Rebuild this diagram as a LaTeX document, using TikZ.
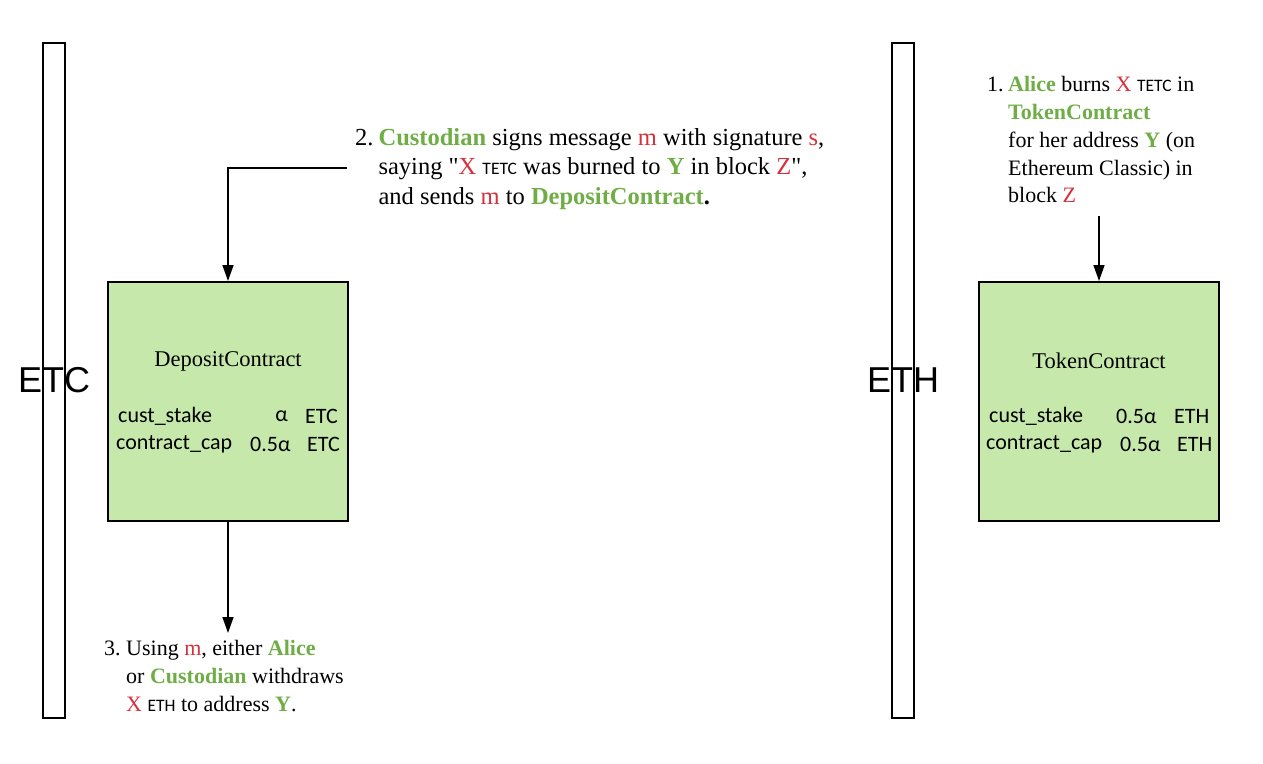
\documentclass[tikz,border=0pt]{standalone}
\usepackage{fontspec}
\setmainfont{Liberation Serif}
\newfontfamily\carl{Carlito}
\newfontfamily\arial{Liberation Sans}
\usetikzlibrary{arrows.meta}
\definecolor{gr}{HTML}{70AD47}
\definecolor{rd}{HTML}{D6303C}
\definecolor{boxfill}{HTML}{C6E8AB}
\newcommand{\G}[1]{\textbf{\textcolor{gr}{#1}}}
\newcommand{\R}[1]{\textcolor{rd}{#1}}
\newcommand{\SF}[1]{{\carl\fontsize{17.5}{20}\selectfont #1}}
\begin{document}
\begin{tikzpicture}[x=1pt,y=-1pt,
  chain/.style={draw=black,line width=2pt},
  contract/.style={draw=black,line width=2pt,fill=boxfill,minimum width=240pt,minimum height=239pt,inner sep=0pt},
  lbl/.style={font=\arial\fontsize{36}{40}\selectfont,inner sep=0pt},
  title/.style={font=\fontsize{22.5}{26}\selectfont,inner sep=0pt},
  tab/.style={font=\carl\fontsize{22}{24}\selectfont,inner sep=0pt},
  conn/.style={line width=1.5pt,-{Triangle[length=16pt,width=11pt]}},
  note/.style={inner sep=0pt,align=left}]
\useasboundingbox (0,0) rectangle (1263,763);
% chains
\node[chain,minimum width=22pt,minimum height=675pt,inner sep=0pt] (etcbar) at (54,380.5) {};
\node[chain,minimum width=22pt,minimum height=675pt,inner sep=0pt] (ethbar) at (903,380.5) {};
\node[lbl] (etc) at (54,380) {ETC};
\node[lbl] (eth) at (903,380) {ETH};
% contracts
\node[contract] (dep) at (228,401.5) {};
\node[title] (deptitle) at (228,361) {DepositContract};
\node[tab,anchor=west] (d1a) at (118,416.5) {cust\_stake};
\node[tab,anchor=east] (d1b) at (288,416.5) {α};
\node[tab,anchor=west] (d1c) at (305,416.5) {ETC};
\node[tab,anchor=west] (d2a) at (116,444.5) {contract\_cap};
\node[tab,anchor=west] (d2b) at (250,444.5) {0.5α};
\node[tab,anchor=west] (d2c) at (307,444.5) {ETC};
\node[contract] (tok) at (1099,401.5) {};
\node[title] (toktitle) at (1099,361) {TokenContract};
\node[tab,anchor=west] (t1a) at (989,416.5) {cust\_stake};
\node[tab,anchor=west] (t1b) at (1116,416.5) {0.5α};
\node[tab,anchor=west] (t1c) at (1174,416.5) {ETH};
\node[tab,anchor=west] (t2a) at (986,444.5) {contract\_cap};
\node[tab,anchor=west] (t2b) at (1120,444.5) {0.5α};
\node[tab,anchor=west] (t2c) at (1177,444.5) {ETH};
% notes
\node[note,anchor=north west,font=\fontsize{24.5}{29.5}\selectfont] (n2) at (355,124.5) {%
\begin{tabular}{@{}l@{\hspace{5pt}}l@{}}
2. & \G{Custodian} signs message \R{m} with signature \R{s},\\
 & saying \textquotedbl\R{X} \SF{TETC} was burned to \G{Y} in block \R{Z}\textquotedbl,\\
 & and sends \R{m} to \G{DepositContract}\textbf{.}
\end{tabular}};
\node[note,anchor=north west,font=\fontsize{22}{27.8}\selectfont] (n1) at (987,72) {%
\begin{tabular}{@{}l@{\hspace{4.5pt}}l@{}}
1. & \G{Alice} burns \R{X} \SF{TETC} in\\
 & \G{TokenContract}\\
 & for her address \G{Y} (on\\
 & Ethereum Classic) in\\
 & block \R{Z}
\end{tabular}};
\node[note,anchor=north west,font=\fontsize{22}{28}\selectfont] (n3) at (104,636) {%
\begin{tabular}{@{}l@{\hspace{5.5pt}}l@{}}
3. & Using \R{m}, either \G{Alice}\\
 & or \G{Custodian} withdraws\\
 & \R{X} \SF{ETH} to address \G{Y}.
\end{tabular}};
% connectors
\coordinate (c2) at (347,168);
\coordinate (c3) at (228,633);
\coordinate (c1) at (1099,216);
\draw[conn] (c2) -| (dep.north);
\draw[conn] (dep.south) -- (c3);
\draw[conn] (c1) -- (tok.north);
\end{tikzpicture}
\end{document}
